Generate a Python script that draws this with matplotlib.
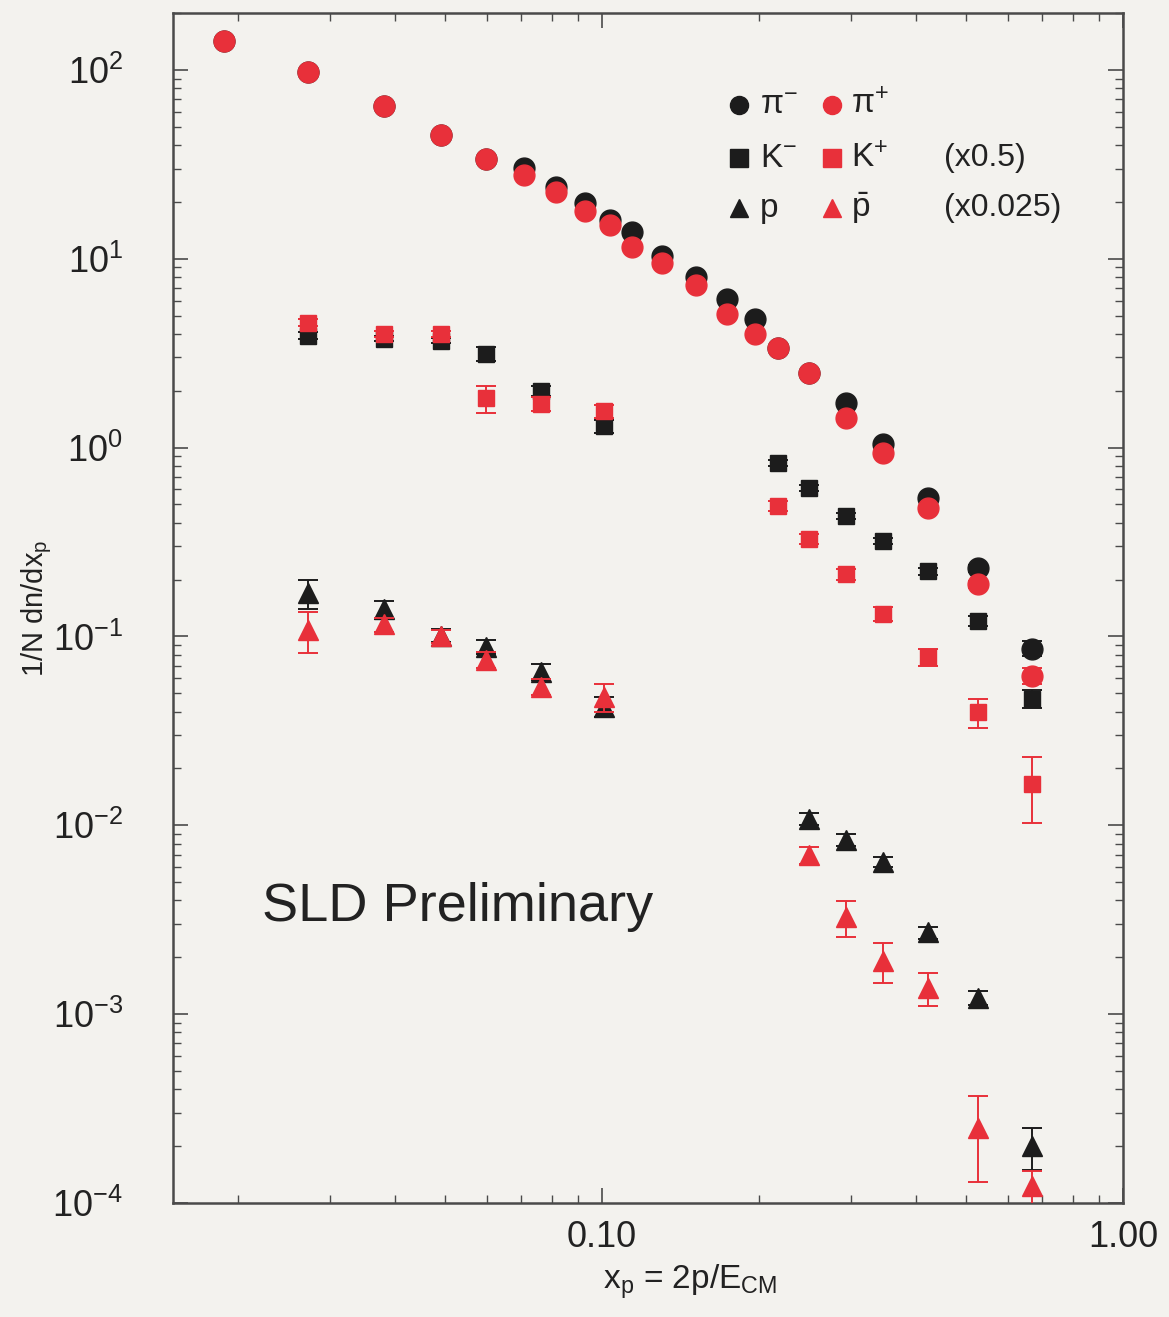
import math
import matplotlib
matplotlib.use("Agg")
import matplotlib.pyplot as plt
from matplotlib.ticker import LogLocator, FixedLocator, FixedFormatter, NullFormatter, FuncFormatter

plt.rcParams['font.family'] = ['Liberation Sans', 'DejaVu Sans']
plt.rcParams['mathtext.fontset'] = 'custom'
plt.rcParams['mathtext.rm'] = 'Liberation Sans'
plt.rcParams['mathtext.it'] = 'Liberation Sans:italic'
plt.rcParams['mathtext.bf'] = 'Liberation Sans:bold'

# ---- data: charged hadron momentum spectra, 1/N dn/dx_p ----
x_pion = [0.0188, 0.0272, 0.0381, 0.0490, 0.0598, 0.0708, 0.0816, 0.0928, 0.1036, 0.1142,
          0.1304, 0.1516, 0.1739, 0.1961, 0.2171, 0.2490, 0.2933, 0.3456, 0.4217, 0.5262, 0.6683]
pi_minus = [142, 98, 64.4, 45.2, 33.7, 30.2, 23.9, 19.7, 16.0, 13.8,
            10.4, 7.96, 6.15, 4.82, 3.38, 2.49, 1.73, 1.045, 0.54, 0.230, 0.0863]
pi_minus_err = [3, 2, 1.3, 0.9, 0.7, 0.6, 0.5, 0.4, 0.3, 0.3,
                0.2, 0.15, 0.12, 0.1, 0.07, 0.05, 0.04, 0.025, 0.015, 0.01, 0.008]
pi_plus = [142, 98, 64.4, 45.2, 33.7, 27.7, 22.5, 18.0, 15.0, 11.6,
           9.44, 7.22, 5.12, 4.01, 3.38, 2.49, 1.44, 0.936, 0.478, 0.189, 0.062]
pi_plus_err = [3, 2, 1.3, 0.9, 0.7, 0.6, 0.5, 0.4, 0.3, 0.25,
               0.2, 0.15, 0.1, 0.08, 0.07, 0.05, 0.03, 0.02, 0.012, 0.008, 0.006]

x_kaon = [0.0272, 0.0381, 0.0490, 0.0598, 0.0763, 0.1009,
          0.2171, 0.2490, 0.2933, 0.3456, 0.4217, 0.5262, 0.6683]
k_minus = [3.92, 3.77, 3.68, 3.14, 2.0, 1.30, 0.828, 0.61, 0.433, 0.319, 0.221, 0.121, 0.0468]
k_minus_err = [0.15, 0.12, 0.12, 0.25, 0.12, 0.1, 0.03, 0.02, 0.015, 0.012, 0.01, 0.007, 0.005]
k_plus = [4.59, 4.01, 4.01, 1.83, 1.71, 1.56, 0.49, 0.327, 0.213, 0.132, 0.078, 0.0399, 0.0166]
k_plus_err = [0.2, 0.15, 0.15, 0.3, 0.15, 0.12, 0.03, 0.02, 0.015, 0.012, 0.008, 0.007, 0.0063]

x_proton = [0.0272, 0.0381, 0.0490, 0.0598, 0.0763, 0.1009,
            0.2490, 0.2933, 0.3456, 0.4217, 0.5262, 0.6683]
proton = [0.169, 0.139, 0.101, 0.0883, 0.0651, 0.0425,
          0.0108, 0.00834, 0.00638, 0.00271, 0.00122, 0.000200]
proton_err = [0.03, 0.015, 0.008, 0.008, 0.006, 0.005,
              0.0008, 0.0006, 0.0004, 0.0002, 0.0001, 0.00005]
antiproton = [0.108, 0.1157, 0.0999, 0.0754, 0.0542, 0.048,
              0.00695, 0.00325, 0.00192, 0.00138, 0.000249, 0.000123]
antiproton_err = [0.026, 0.01, 0.008, 0.007, 0.005, 0.008,
                  0.0007, 0.0007, 0.00045, 0.00028, 0.00012, 0.000025]

y_ticks = [1e-4, 1e-3, 1e-2, 1e-1, 1e0, 1e1, 1e2]
x_ticks = [0.1, 1.0]
x_tick_labels = ["0.10", "1.00"]

BLACK = '#1c1c1c'
RED = '#e8303a'
BG = '#f3f2ee'
INK = '#222222'

fig = plt.figure(figsize=(11.69, 13.17), dpi=100, facecolor=BG)
ax = fig.add_axes([0.148, 0.0866, 0.8127, 0.9035], facecolor=BG)
ax.set_xscale('log')
ax.set_yscale('log')
ax.set_xlim(0.015, 1.0)
ax.set_ylim(1e-4, 200)

def series(x, y, err, color, marker, ms, z):
    ax.errorbar(x, y, yerr=err, fmt=marker, color=color, ms=ms, mec=color,
                mfc=color, ecolor=color, elinewidth=1.4, capsize=7, capthick=1.4,
                zorder=z)

series(x_pion, pi_minus, pi_minus_err, BLACK, 'o', 15, 3)
series(x_pion, pi_plus, pi_plus_err, RED, 'o', 15, 4)
series(x_kaon, k_minus, k_minus_err, BLACK, 's', 12, 3)
series(x_kaon, k_plus, k_plus_err, RED, 's', 12, 4)
series(x_proton, proton, proton_err, BLACK, '^', 14, 3)
series(x_proton, antiproton, antiproton_err, RED, '^', 14, 4)

# ---- axes styling ----
for s in ax.spines.values():
    s.set_color('#4a4a4a')
    s.set_linewidth(1.8)

ax.xaxis.set_major_locator(FixedLocator(x_ticks))
ax.xaxis.set_major_formatter(FixedFormatter(x_tick_labels))
ax.xaxis.set_minor_locator(LogLocator(base=10, subs=range(2, 10), numticks=20))
ax.xaxis.set_minor_formatter(NullFormatter())
ax.yaxis.set_major_locator(FixedLocator(y_ticks))
ax.yaxis.set_major_formatter(FuncFormatter(
    lambda v, p: r'$\mathregular{10^{%d}}$' % round(math.log10(v))))
ax.yaxis.set_minor_locator(LogLocator(base=10, subs=range(2, 10), numticks=20))
ax.yaxis.set_minor_formatter(NullFormatter())

ax.tick_params(which='both', direction='in', top=True, right=True,
               color='#4a4a4a', labelcolor=INK)
ax.tick_params(which='major', length=11, width=1.2, labelsize=26)
ax.tick_params(which='minor', length=6, width=1.0)
ax.tick_params(axis='y', which='major', pad=36)
ax.tick_params(axis='x', which='major', pad=12)

ax.set_xlabel(r'$\mathregular{x_p}$ = 2p/$\mathregular{E_{CM}}$', fontsize=24, color=INK)
ax.xaxis.set_label_coords(0.544, -0.050)
ax.set_ylabel(r'$\mathregular{1/N\ dn/dx_p}$', fontsize=21, color=INK)
ax.yaxis.set_label_coords(-0.125, 0.50)

# ---- legend ----
rows = [0.9227, 0.878, 0.836]
marks = ['o', 's', '^']
left_labels = [r'$\mathregular{π^{-}}$', r'$\mathregular{K^{-}}$', 'p']
right_labels = [r'$\mathregular{π^{+}}$', r'$\mathregular{K^{+}}$', r'$\mathregular{\bar{p}}$']
scales = ['', '(x0.5)', '(x0.025)']
for yy, m, ll, rl, sc in zip(rows, marks, left_labels, right_labels, scales):
    ax.plot([0.596], [yy], m, color=BLACK, ms=13, transform=ax.transAxes, zorder=5)
    ax.text(0.618, yy, ll, transform=ax.transAxes, fontsize=24, va='center',
            ha='left', color=INK)
    ax.plot([0.694], [yy], m, color=RED, ms=13, transform=ax.transAxes, zorder=5)
    ax.text(0.714, yy, rl, transform=ax.transAxes, fontsize=24, va='center',
            ha='left', color=INK)
    if sc:
        ax.text(0.812, yy, sc, transform=ax.transAxes, fontsize=23, va='center',
                ha='left', color=INK)

ax.text(0.0937, 0.2487, 'SLD Preliminary', transform=ax.transAxes, fontsize=39,
        va='center', ha='left', color=INK)

fig.savefig('out.png', dpi=100, facecolor=BG)
